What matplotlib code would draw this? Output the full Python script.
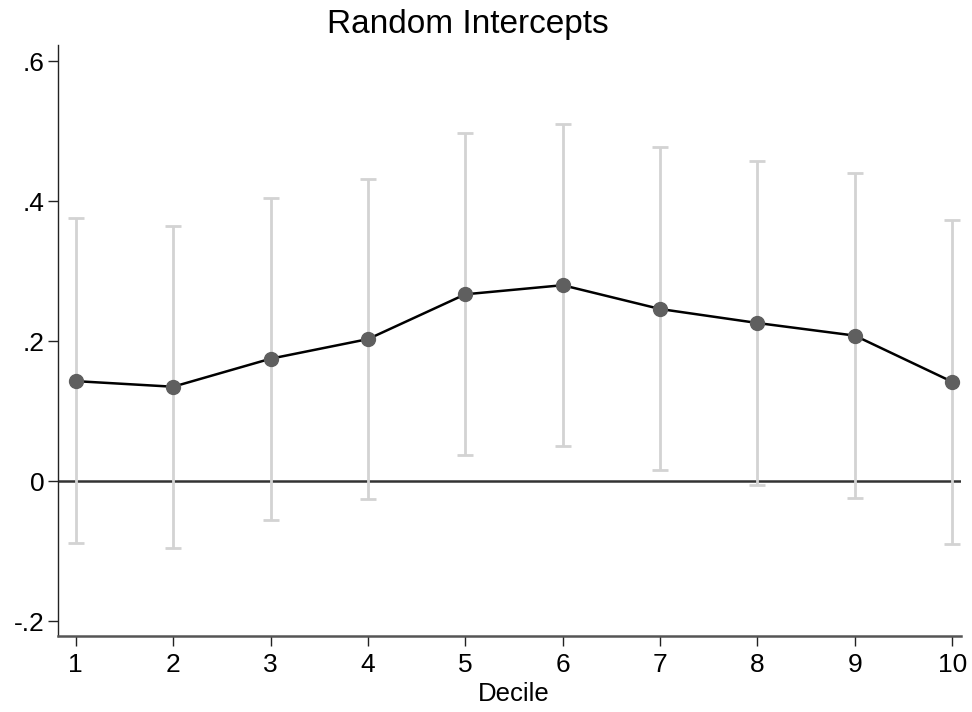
import matplotlib.pyplot as plt

plt.rcParams['font.family'] = ['Liberation Sans', 'DejaVu Sans']

deciles = [1, 2, 3, 4, 5, 6, 7, 8, 9, 10]
estimates = [0.143, 0.135, 0.175, 0.203, 0.267, 0.280, 0.246, 0.226, 0.208, 0.142]
upper = [0.376, 0.365, 0.404, 0.432, 0.497, 0.510, 0.477, 0.457, 0.440, 0.373]
lower = [-0.088, -0.095, -0.056, -0.025, 0.038, 0.050, 0.016, -0.005, -0.024, -0.090]
y_ticks = [-0.2, 0, 0.2, 0.4, 0.6]
y_labels = ['-.2', '0', '.2', '.4', '.6']

fig = plt.figure(figsize=(9.72, 7.12), dpi=100)
ax = fig.add_axes([0.0597, 0.1067, 0.9290, 0.8301])

err_lo = [e - l for e, l in zip(estimates, lower)]
err_hi = [u - e for e, u in zip(estimates, upper)]

ax.axhline(0, color='#333333', lw=1.8, zorder=2)
ax.errorbar(deciles, estimates, yerr=[err_lo, err_hi], fmt='none',
            ecolor='#d3d3d3', elinewidth=2.0, capsize=5.5, capthick=2.0, zorder=3)
ax.plot(deciles, estimates, color='black', lw=1.8, zorder=4)
ax.plot(deciles, estimates, 'o', color='#5f5f5f', markersize=10, zorder=5)

ax.set_xlim(0.818, 10.09)
ax.set_ylim(-0.221, 0.623)
ax.set_xticks(deciles)
ax.set_yticks(y_ticks)
ax.set_yticklabels(y_labels)

for side in ['top', 'right']:
    ax.spines[side].set_visible(False)
ax.spines['left'].set_color('#222222')
ax.spines['bottom'].set_color('#555555')
ax.spines['left'].set_linewidth(1.0)
ax.spines['bottom'].set_linewidth(1.8)

ax.tick_params(axis='both', labelsize=19, length=7, width=1.0, color='#222222')
ax.tick_params(axis='x', pad=5)
ax.tick_params(axis='y', pad=3)

ax.set_xlabel('Decile', fontsize=18.5)
ax.xaxis.set_label_coords(0.505, -0.077)
fig.text(0.4815, 0.965, 'Random Intercepts', fontsize=24, ha='center', va='center')

fig.savefig('out.png', dpi=100)
